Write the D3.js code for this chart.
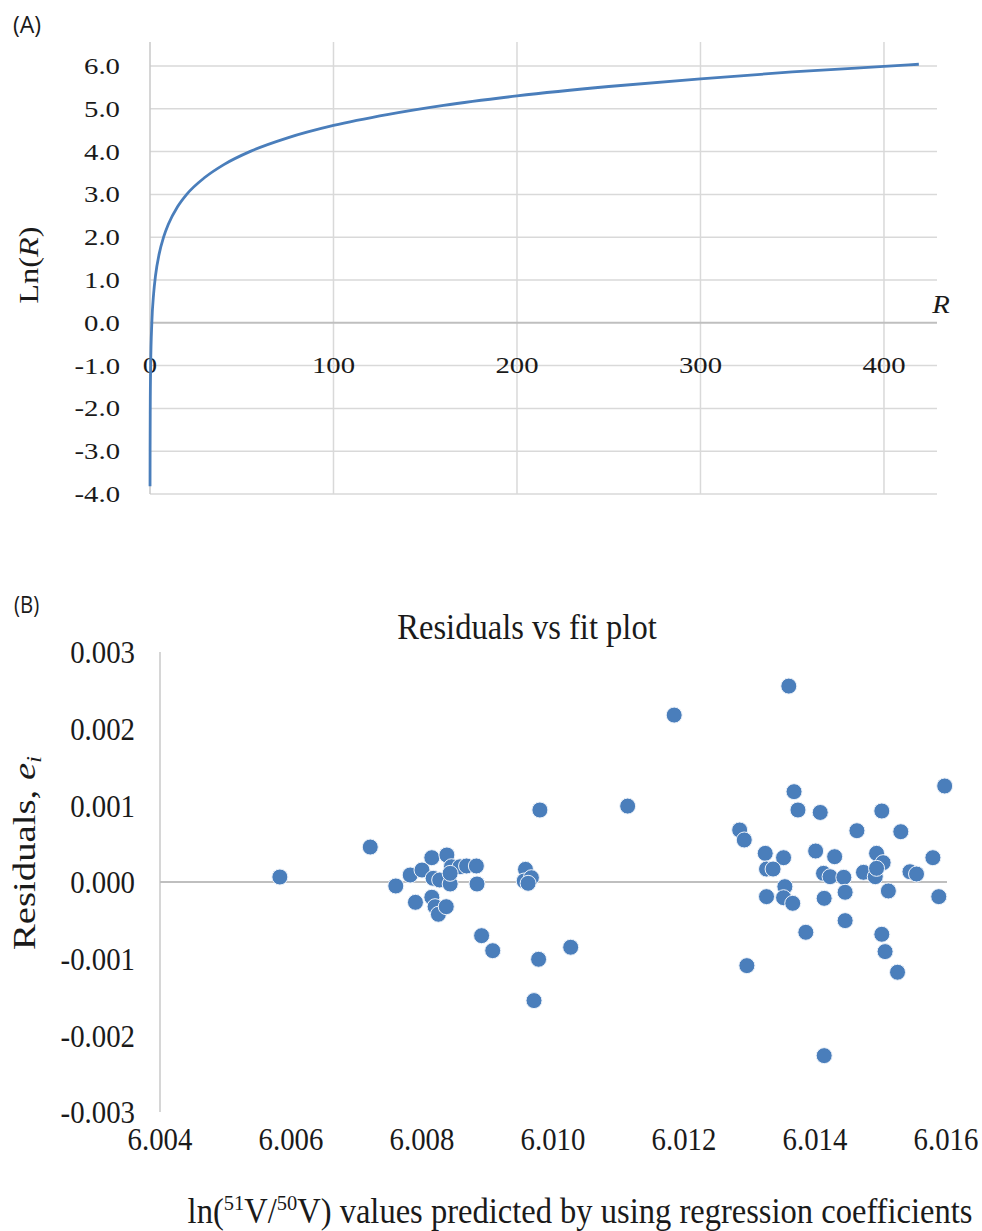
<!DOCTYPE html>
<html>
<head>
<meta charset="utf-8">
<script src="https://cdn.jsdelivr.net/npm/d3@7"></script>
<style>
  body { margin: 0; background: #fff; }
  svg text { font-family: "Liberation Serif", "DejaVu Serif", serif; fill: #1a1a1a; }
</style>
</head>
<body>
<div id="chart"></div>
<script>
// (A) Ln(R) curve
const curveR = [0.022, 0.05, 0.14, 0.37, 1, 2, 3, 5, 7.4, 10, 15, 20, 30, 40, 55, 75, 100, 130, 160, 200, 250, 300, 350, 400, 419];
const curveLnR = [-3.82, -3.0, -1.97, -0.99, 0.0, 0.69, 1.1, 1.61, 2.0, 2.3, 2.71, 3.0, 3.4, 3.69, 4.01, 4.32, 4.61, 4.87, 5.08, 5.3, 5.52, 5.7, 5.86, 5.99, 6.04];
const aXTicks = [0, 100, 200, 300, 400];
const aYTicks = [-4, -3, -2, -1, 0, 1, 2, 3, 4, 5, 6];

// (B) residuals vs fitted values
const fitted = [
  6.00583, 6.00721,
  6.00760, 6.00782, 6.00790, 6.00800, 6.00815, 6.00838, 6.00815, 6.00820, 6.00825, 6.00837,
  6.00817, 6.00827, 6.00843, 6.00845, 6.00858, 6.00868, 6.00883, 6.00884, 6.00843,
  6.00891, 6.00908, 6.00958, 6.00956, 6.00967, 6.00962, 6.00980, 6.00978, 6.00971, 6.01027,
  6.01114, 6.01185,
  6.01360, 6.01598, 6.01368, 6.01374, 6.01408, 6.01502, 6.01285, 6.01292, 6.01464, 6.01531,
  6.01324, 6.01352, 6.01401, 6.01430, 6.01494, 6.01504, 6.01580, 6.01326, 6.01336, 6.01413,
  6.01423, 6.01444, 6.01474, 6.01492, 6.01494, 6.01545, 6.01555, 6.01354, 6.01326, 6.01352,
  6.01366, 6.01414, 6.01446, 6.01512, 6.01589, 6.01386, 6.01446, 6.01502, 6.01507, 6.01526,
  6.01296, 6.01414
];
const residuals = [
  0.000065, 0.000456,
  -0.000052, 0.000091, -0.000265, 0.000156, 0.000317, 0.000352, -0.000199, -0.000322, -0.000421, -0.000322,
  0.000048, 0.000026, -0.000026, 0.000199, 0.000199, 0.000209, 0.000209, -0.000026, 0.000113,
  -0.000700, -0.000896, 0.000165, 0.000013, 0.000056, -0.000017, 0.000939, -0.001008, -0.001547, -0.000851,
  0.000990, 0.002177,
  0.002555, 0.001252, 0.001178, 0.000939, 0.000907, 0.000926, 0.000678, 0.000548, 0.000669, 0.000656,
  0.000374, 0.000317, 0.000404, 0.000330, 0.000374, 0.000252, 0.000317, 0.000169, 0.000169, 0.000113,
  0.000069, 0.000061, 0.000126, 0.000069, 0.000178, 0.000134, 0.000104, -0.000061, -0.000191, -0.000205,
  -0.000278, -0.000213, -0.000134, -0.000117, -0.000191, -0.000656, -0.000504, -0.000682, -0.000908, -0.001177,
  -0.001091, -0.002265
];
const bXTicks = [6.004, 6.006, 6.008, 6.010, 6.012, 6.014, 6.016];
const bYTicks = [-0.003, -0.002, -0.001, 0, 0.001, 0.002, 0.003];

const blue = "#4a7ebb";
const grid = "#d9d9d9";

// hyphen minus like the original, not the unicode one d3 uses
const fmt = f => d => d3.format(f)(d).replace("\u2212", "-");

let svg = d3.select("#chart")
  .append("svg")
  .attr("width", 982)
  .attr("height", 1231);

drawPanelA();
drawPanelB();

function drawPanelA() {
  let x = d3.scaleLinear().domain([0, 428.9]).range([150, 937]);
  let y = d3.scaleLinear().domain([-4, 6.56]).range([494, 42]);
  let g = svg.append("g");

  g.selectAll("line.hgrid")
    .data(aYTicks.filter(d => d !== 0))
    .enter().append("line")
    .attr("class", "hgrid")
    .attr("x1", x(0)).attr("x2", x.range()[1])
    .attr("y1", d => y(d)).attr("y2", d => y(d))
    .attr("stroke", grid).attr("stroke-width", 1.5);

  g.selectAll("line.vgrid")
    .data(aXTicks.filter(d => d !== 0))
    .enter().append("line")
    .attr("class", "vgrid")
    .attr("x1", d => x(d)).attr("x2", d => x(d))
    .attr("y1", y.range()[1]).attr("y2", y.range()[0])
    .attr("stroke", grid).attr("stroke-width", 1.5);

  g.append("line")
    .attr("x1", x(0)).attr("x2", x(0))
    .attr("y1", y.range()[1]).attr("y2", y.range()[0])
    .attr("stroke", "#c8c8c8").attr("stroke-width", 1.5);
  g.append("line")
    .attr("x1", x(0)).attr("x2", x.range()[1])
    .attr("y1", y(0)).attr("y2", y(0))
    .attr("stroke", "#bfbfbf").attr("stroke-width", 2);

  // source font is wider than ours, so stretch a bit
  g.selectAll("text.ytick")
    .data(aYTicks)
    .enter().append("text")
    .attr("class", "ytick")
    .attr("transform", d => "translate(120," + y(d) + ") scale(1.25,1)")
    .attr("dy", "0.35em")
    .attr("text-anchor", "end")
    .style("font-size", "23px")
    .text(fmt(".1f"));

  // x tick labels sit on the -1 gridline like the original
  g.selectAll("text.xtick")
    .data(aXTicks)
    .enter().append("text")
    .attr("class", "xtick")
    .attr("transform", d => "translate(" + x(d) + "," + (y(-1) - 1) + ") scale(1.25,1)")
    .attr("dy", "0.35em")
    .attr("text-anchor", "middle")
    .style("font-size", "23px")
    .text(d => d);

  let line = d3.line()
    .x((d, i) => x(curveR[i]))
    .y(d => y(d))
    .curve(d3.curveMonotoneX);

  g.append("path")
    .datum(curveLnR)
    .attr("d", line)
    .attr("fill", "none")
    .attr("stroke", blue)
    .attr("stroke-width", 2.8);

  g.append("text")
    .attr("transform", "translate(941,313) scale(1.15,1)")
    .attr("text-anchor", "middle")
    .style("font-size", "25px")
    .style("font-style", "italic")
    .text("R");

  let yl = g.append("text")
    .attr("transform", "translate(38,265) rotate(-90) scale(1.2,1)")
    .attr("text-anchor", "middle")
    .style("font-size", "27px");
  yl.append("tspan").text("Ln(");
  yl.append("tspan").style("font-style", "italic").text("R");
  yl.append("tspan").text(")");

  g.append("text")
    .attr("x", 13).attr("y", 33)
    .style("font-family", "'Open Sans', sans-serif")
    .style("font-size", "23px")
    .text("(A)");
}

function drawPanelB() {
  let x = d3.scaleLinear().domain([6.004, 6.016]).range([160, 946]);
  let y = d3.scaleLinear().domain([-0.003, 0.003]).range([1112, 652]);
  let g = svg.append("g");

  g.append("line")
    .attr("x1", x(6.004)).attr("x2", x(6.004))
    .attr("y1", y(0.003)).attr("y2", y(-0.003))
    .attr("stroke", "#c8c8c8").attr("stroke-width", 1.5);
  g.append("line")
    .attr("x1", x(6.004)).attr("x2", x(6.016) + 1)
    .attr("y1", y(0)).attr("y2", y(0))
    .attr("stroke", "#bfbfbf").attr("stroke-width", 2);

  // this panel's text reads tall and narrow
  g.selectAll("text.ytick")
    .data(bYTicks)
    .enter().append("text")
    .attr("class", "ytick")
    .attr("transform", d => "translate(135," + y(d) + ") scale(0.9,1)")
    .attr("dy", "0.35em")
    .attr("text-anchor", "end")
    .style("font-size", "32px")
    .text(fmt(".3f"));

  g.selectAll("text.xtick")
    .data(bXTicks)
    .enter().append("text")
    .attr("class", "xtick")
    .attr("transform", d => "translate(" + x(d) + ",1139) scale(0.9,1)")
    .attr("dy", "0.35em")
    .attr("text-anchor", "middle")
    .style("font-size", "32px")
    .text(fmt(".3f"));

  g.selectAll("circle.dot")
    .data(residuals)
    .enter().append("circle")
    .attr("class", "dot")
    .attr("cx", (d, i) => x(fitted[i]))
    .attr("cy", d => y(d))
    .attr("r", 8)
    .attr("fill", blue)
    .attr("stroke", "#eef3fa")
    .attr("stroke-width", 1);

  g.append("text")
    .attr("transform", "translate(527,639) scale(0.93,1)")
    .attr("text-anchor", "middle")
    .style("font-size", "35px")
    .text("Residuals vs fit plot");

  let yl = g.append("text")
    .attr("transform", "translate(35,853) rotate(-90) scale(1.25,1)")
    .attr("text-anchor", "middle")
    .style("font-size", "31px");
  yl.append("tspan").text("Residuals, ");
  yl.append("tspan").style("font-style", "italic").text("e");
  yl.append("tspan").style("font-style", "italic").style("font-size", "20px")
    .attr("dy", "6").text("i");

  let xl = g.append("text")
    .attr("transform", "translate(580,1223) scale(0.93,1)")
    .attr("text-anchor", "middle")
    .style("font-size", "35px");
  xl.append("tspan").text("ln(");
  xl.append("tspan").style("font-size", "22px").attr("dy", "-13").text("51");
  xl.append("tspan").attr("dy", "13").text("V/");
  xl.append("tspan").style("font-size", "22px").attr("dy", "-13").text("50");
  xl.append("tspan").attr("dy", "13").text("V) values predicted by using regression coefficients");

  g.append("text")
    .attr("transform", "translate(14,613) scale(0.85,1)")
    .style("font-family", "'Open Sans', sans-serif")
    .style("font-size", "24px")
    .text("(B)");
}
</script>
</body>
</html>
